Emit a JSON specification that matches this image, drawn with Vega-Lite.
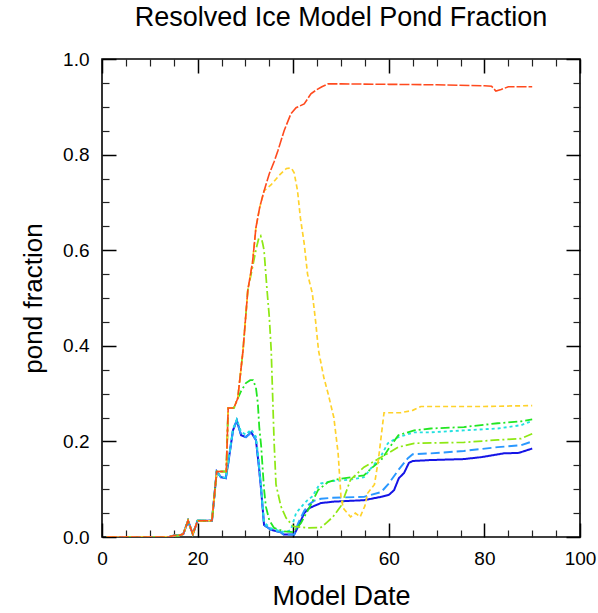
{
  "$schema": "https://vega.github.io/schema/vega-lite/v6.json",
  "autosize": {"type": "none"},
  "padding": {"left": 102, "top": 59, "right": 18, "bottom": 76},
  "width": 478,
  "height": 478,
  "title": {"text": "Resolved Ice Model Pond Fraction", "fontSize": 27, "font": "Liberation Sans", "fontWeight": "normal", "color": "#000", "anchor": "middle", "frame": "group", "baseline": "alphabetic", "offset": -3},
  "data": {"values": [
    {"s": "blue", "x": [1,14,15,16,17,18,19,20,23,24,24.9,25.9,26.4,27.4,28.2,29.1,30.1,31.2,32.2,32.8,33.3,33.9,35.4,37.4,38,40.2,41.2,42.3,43.3,44.4,45.8,48.5,54.8,58.4,60,61.1,62.1,63.2,64.2,65,68.8,75.7,79.3,84.1,87.2,90],
     "y": [0,0,0.003,0.003,0.006,0.034,0.006,0.034,0.034,0.137,0.125,0.123,0.154,0.223,0.244,0.213,0.209,0.219,0.203,0.15,0.098,0.025,0.015,0.01,0.005,0.005,0.025,0.05,0.06,0.065,0.071,0.074,0.077,0.084,0.088,0.098,0.123,0.134,0.155,0.159,0.161,0.163,0.167,0.175,0.176,0.185]},
    {"s": "lightblue", "x": [1,14,15,16,17,18,19,20,23,24,24.9,25.9,26.4,27.4,28.2,29.1,30.1,31.2,32.2,32.8,33.3,33.9,35.4,37.4,38,40.2,41,42.3,43.3,44.4,45.8,48,54.8,58.4,60,62,64,65,68.8,75.7,82.8,87.7,90],
     "y": [0,0,0.003,0.003,0.006,0.034,0.006,0.034,0.034,0.137,0.125,0.123,0.154,0.223,0.244,0.213,0.209,0.219,0.203,0.15,0.098,0.025,0.015,0.01,0.005,0.005,0.028,0.055,0.068,0.076,0.08,0.082,0.084,0.094,0.112,0.14,0.165,0.173,0.175,0.18,0.188,0.192,0.2]},
    {"s": "cyan", "x": [1,14,15,16,17,18,19,20,23,24,24.9,25.9,26.4,27.4,28.2,29.1,30.1,31.2,32.2,32.8,33.3,33.9,35.4,37.4,38.5,39.5,40.6,42.3,43,44,45.2,45.8,47.3,48,52,54.8,56.3,58.4,59.8,62,65.3,68.8,75.7,82.8,87.7,90],
     "y": [0,0,0.003,0.003,0.006,0.034,0.006,0.034,0.034,0.137,0.125,0.124,0.156,0.226,0.246,0.22,0.214,0.225,0.21,0.16,0.105,0.03,0.018,0.012,0.01,0.015,0.05,0.07,0.077,0.085,0.105,0.112,0.115,0.117,0.12,0.125,0.144,0.17,0.196,0.209,0.219,0.219,0.223,0.227,0.234,0.243]},
    {"s": "green", "x": [1,14,15,16,17,18,19,20,23,24,26,26.4,27.6,28.4,29.1,30.1,31,31.6,32.2,32.6,32.9,33.3,33.9,34.3,35,36,38,40,41.6,43.3,45.2,47.3,49.4,52,54.8,56.5,58.4,60,62,65.3,68.8,75.7,82.8,87.7,90],
     "y": [0,0,0.003,0.003,0.006,0.034,0.006,0.034,0.034,0.137,0.137,0.27,0.27,0.29,0.305,0.322,0.328,0.328,0.313,0.28,0.23,0.19,0.1,0.063,0.035,0.019,0.012,0.01,0.029,0.06,0.098,0.115,0.121,0.125,0.129,0.145,0.161,0.185,0.213,0.223,0.227,0.23,0.238,0.242,0.246]},
    {"s": "yellowgreen", "x": [1,14,15,16,17,18,19,20,23,24,26,26.4,27.6,28.4,29.5,30.5,31.5,32.3,32.8,33.2,33.6,33.9,34.5,35,35.4,36,36.4,37.4,38.5,40,43,45.8,47,48.3,50,52,54.8,58.4,62,65.3,75.7,82.8,87.7,90],
     "y": [0,0,0.003,0.003,0.006,0.034,0.006,0.034,0.034,0.137,0.137,0.27,0.27,0.29,0.39,0.516,0.565,0.605,0.625,0.63,0.615,0.6,0.52,0.46,0.39,0.2,0.11,0.065,0.04,0.022,0.019,0.02,0.03,0.042,0.065,0.12,0.146,0.167,0.188,0.196,0.198,0.203,0.206,0.216]},
    {"s": "yellow", "x": [1,14,15,16,17,18,19,20,23,24,26,26.4,27.6,28.4,29.5,30.5,31.5,32.2,33,33.9,35.4,37.1,38.6,39.6,40.2,40.9,41.5,42.3,43,44,44.7,45.3,46.4,47.3,48.5,49.4,50,50.5,52,53,54,55,55.6,57,57.8,59,62.5,65,66.7,80,90],
     "y": [0,0,0.003,0.003,0.006,0.034,0.006,0.034,0.034,0.137,0.137,0.27,0.27,0.29,0.39,0.516,0.575,0.647,0.69,0.724,0.737,0.757,0.771,0.772,0.762,0.725,0.668,0.614,0.55,0.51,0.45,0.39,0.334,0.3,0.25,0.175,0.083,0.06,0.042,0.05,0.042,0.065,0.092,0.11,0.16,0.26,0.26,0.265,0.273,0.273,0.275]},
    {"s": "orange", "x": [1,14,15,16,17,18,19,20,23,24,26,26.4,27.6,28.4,29.5,30.5,31.5,32.2,33,33.9,35,36,36.8,38.1,39.5,40.6,42.3,43.7,44.8,46,47.3,50,60,70,80,81.5,82.4,83.5,85,90],
     "y": [0,0,0.003,0.003,0.006,0.034,0.006,0.034,0.034,0.137,0.137,0.27,0.27,0.29,0.39,0.516,0.575,0.647,0.69,0.724,0.76,0.785,0.808,0.85,0.885,0.898,0.906,0.927,0.935,0.942,0.948,0.948,0.947,0.946,0.944,0.943,0.933,0.936,0.942,0.942]}
  ]},
  "transform": [{"flatten": ["x", "y"]}],
  "layer": [
    {
      "mark": {"type": "line", "clip": true},
      "encoding": {
        "x": {"field": "x", "type": "quantitative", "scale": {"domain": [0, 100], "nice": false, "zero": false},
              "axis": {"orient": "bottom", "values": [0, 20, 40, 60, 80, 100], "ticks": false, "labelPadding": 12, "labelFontSize": 19, "labelFlush": false, "title": "Model Date", "titleFontSize": 27, "titlePadding": 15}},
        "y": {"field": "y", "type": "quantitative", "scale": {"domain": [0, 1], "nice": false, "zero": false},
              "axis": {"orient": "left", "values": [0, 0.2, 0.4, 0.6, 0.8, 1.0], "format": ".1f", "ticks": false, "labelPadding": 13, "labelFontSize": 19, "labelFlush": false, "title": "pond fraction", "titleFontSize": 26, "titlePadding": 16}},
        "color": {"field": "s", "type": "nominal", "sort": null,
                  "scale": {"domain": ["blue", "lightblue", "cyan", "green", "yellowgreen", "yellow", "orange"],
                            "range": ["#1414e6", "#2a98ff", "#22e0e0", "#22e622", "#8ee814", "#ffd22a", "#ff4a1e"]}, "legend": null},
        "strokeDash": {"field": "s", "type": "nominal", "sort": null,
                  "scale": {"domain": ["blue", "lightblue", "cyan", "green", "yellowgreen", "yellow", "orange"],
                            "range": [[1, 0], [9, 4], [3, 3], [9, 3, 2, 3], [9, 3, 2, 3], [5, 3], [10, 2]]}, "legend": null},
        "strokeWidth": {"field": "s", "type": "nominal", "sort": null,
                  "scale": {"domain": ["blue", "lightblue", "cyan", "green", "yellowgreen", "yellow", "orange"],
                            "range": [2, 1.6, 1.6, 1.6, 1.6, 1.4, 1.4]}, "legend": null}
      }
    },
    {
      "mark": {"type": "point", "opacity": 0},
      "encoding": {
        "x": {"field": "x", "type": "quantitative", "axis": {"orient": "bottom", "values": [0, 20, 40, 60, 80, 100], "labels": false, "tickSize": -14, "tickWidth": 1.5, "tickColor": "#000", "title": null}},
        "y": {"field": "y", "type": "quantitative", "axis": {"orient": "left", "values": [0, 0.2, 0.4, 0.6, 0.8, 1.0], "labels": false, "tickSize": -14, "tickWidth": 1.5, "tickColor": "#000", "title": null}}
      }
    },
    {
      "mark": {"type": "point", "opacity": 0},
      "encoding": {
        "x": {"field": "x", "type": "quantitative", "axis": {"orient": "bottom", "values": [5, 10, 15, 25, 30, 35, 45, 50, 55, 65, 70, 75, 85, 90, 95], "labels": false, "tickSize": -7, "tickWidth": 1.2, "tickColor": "#222", "title": null}},
        "y": {"field": "y", "type": "quantitative", "axis": {"orient": "left", "values": [0.05, 0.1, 0.15, 0.25, 0.3, 0.35, 0.45, 0.5, 0.55, 0.65, 0.7, 0.75, 0.85, 0.9, 0.95], "labels": false, "tickSize": -7, "tickWidth": 1.2, "tickColor": "#222", "title": null}}
      }
    },
    {
      "mark": {"type": "point", "opacity": 0},
      "encoding": {
        "x": {"field": "x", "type": "quantitative", "axis": {"orient": "top", "values": [0, 20, 40, 60, 80, 100], "labels": false, "tickSize": -14, "tickWidth": 1.5, "tickColor": "#000", "title": null}},
        "y": {"field": "y", "type": "quantitative", "axis": {"orient": "right", "values": [0, 0.2, 0.4, 0.6, 0.8, 1.0], "labels": false, "tickSize": -14, "tickWidth": 1.5, "tickColor": "#000", "title": null}}
      }
    },
    {
      "mark": {"type": "point", "opacity": 0},
      "encoding": {
        "x": {"field": "x", "type": "quantitative", "axis": {"orient": "top", "values": [5, 10, 15, 25, 30, 35, 45, 50, 55, 65, 70, 75, 85, 90, 95], "labels": false, "tickSize": -7, "tickWidth": 1.2, "tickColor": "#222", "title": null}},
        "y": {"field": "y", "type": "quantitative", "axis": {"orient": "right", "values": [0.05, 0.1, 0.15, 0.25, 0.3, 0.35, 0.45, 0.5, 0.55, 0.65, 0.7, 0.75, 0.85, 0.9, 0.95], "labels": false, "tickSize": -7, "tickWidth": 1.2, "tickColor": "#222", "title": null}}
      }
    }
  ],
  "resolve": {"axis": {"x": "independent", "y": "independent"}},
  "config": {
    "font": "Liberation Sans",
    "view": {"stroke": "#000", "strokeWidth": 1.6},
    "axis": {"grid": false, "domain": false, "labelColor": "#000", "titleColor": "#000", "titleFontWeight": "normal", "labelFont": "Liberation Sans", "titleFont": "Liberation Sans"}
  }
}
